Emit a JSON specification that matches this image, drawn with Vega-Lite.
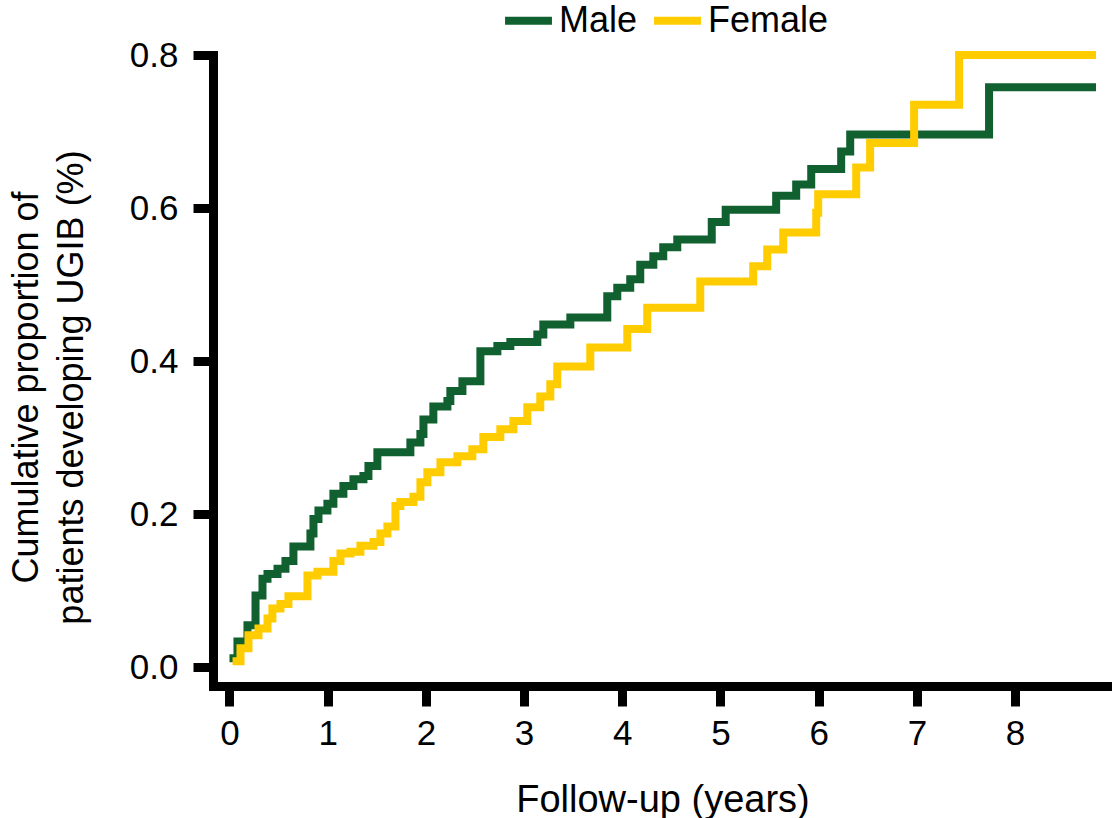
{
  "$schema": "https://vega.github.io/schema/vega-lite/v6.json",
  "width": 899,
  "height": 631,
  "autosize": {"type": "none"},
  "padding": {"left": 213, "top": 55, "right": 0, "bottom": 132},
  "background": "white",
  "config": {
    "view": {"stroke": null},
    "font": "Liberation Sans",
    "axis": {
      "domainColor": "black",
      "domainWidth": 9,
      "domainCap": "square",
      "tickColor": "black",
      "tickWidth": 9,
      "tickSize": 20,
      "grid": false,
      "labelFont": "Liberation Sans",
      "labelFontSize": 35,
      "labelColor": "black",
      "titleFont": "Liberation Sans",
      "titleFontSize": 36,
      "titleFontWeight": "normal",
      "titleColor": "black"
    }
  },
  "data": {
    "values": [
      {"sex": "Male", "t": 0.0, "p": 0.012},
      {"sex": "Male", "t": 0.081, "p": 0.034},
      {"sex": "Male", "t": 0.183, "p": 0.055},
      {"sex": "Male", "t": 0.265, "p": 0.094},
      {"sex": "Male", "t": 0.336, "p": 0.116},
      {"sex": "Male", "t": 0.387, "p": 0.122},
      {"sex": "Male", "t": 0.489, "p": 0.129},
      {"sex": "Male", "t": 0.57, "p": 0.139},
      {"sex": "Male", "t": 0.651, "p": 0.158},
      {"sex": "Male", "t": 0.824, "p": 0.175},
      {"sex": "Male", "t": 0.855, "p": 0.194},
      {"sex": "Male", "t": 0.906, "p": 0.205},
      {"sex": "Male", "t": 0.997, "p": 0.214},
      {"sex": "Male", "t": 1.058, "p": 0.227},
      {"sex": "Male", "t": 1.16, "p": 0.237},
      {"sex": "Male", "t": 1.262, "p": 0.246},
      {"sex": "Male", "t": 1.364, "p": 0.25},
      {"sex": "Male", "t": 1.415, "p": 0.263},
      {"sex": "Male", "t": 1.506, "p": 0.281},
      {"sex": "Male", "t": 1.842, "p": 0.294},
      {"sex": "Male", "t": 1.944, "p": 0.305},
      {"sex": "Male", "t": 1.975, "p": 0.324},
      {"sex": "Male", "t": 2.076, "p": 0.341},
      {"sex": "Male", "t": 2.219, "p": 0.348},
      {"sex": "Male", "t": 2.249, "p": 0.361},
      {"sex": "Male", "t": 2.372, "p": 0.374},
      {"sex": "Male", "t": 2.555, "p": 0.413},
      {"sex": "Male", "t": 2.728, "p": 0.42},
      {"sex": "Male", "t": 2.86, "p": 0.425},
      {"sex": "Male", "t": 3.135, "p": 0.435},
      {"sex": "Male", "t": 3.196, "p": 0.448},
      {"sex": "Male", "t": 3.471, "p": 0.457},
      {"sex": "Male", "t": 3.847, "p": 0.485},
      {"sex": "Male", "t": 3.949, "p": 0.496},
      {"sex": "Male", "t": 4.081, "p": 0.507},
      {"sex": "Male", "t": 4.183, "p": 0.526},
      {"sex": "Male", "t": 4.316, "p": 0.537},
      {"sex": "Male", "t": 4.417, "p": 0.549},
      {"sex": "Male", "t": 4.56, "p": 0.559},
      {"sex": "Male", "t": 4.911, "p": 0.582},
      {"sex": "Male", "t": 5.053, "p": 0.598},
      {"sex": "Male", "t": 5.567, "p": 0.616},
      {"sex": "Male", "t": 5.771, "p": 0.631},
      {"sex": "Male", "t": 5.924, "p": 0.651},
      {"sex": "Male", "t": 6.229, "p": 0.674},
      {"sex": "Male", "t": 6.321, "p": 0.696},
      {"sex": "Male", "t": 7.735, "p": 0.758},
      {"sex": "Male", "t": 8.824, "p": 0.758},
      {"sex": "Female", "t": 0.031, "p": 0.008},
      {"sex": "Female", "t": 0.112, "p": 0.025},
      {"sex": "Female", "t": 0.193, "p": 0.042},
      {"sex": "Female", "t": 0.295, "p": 0.051},
      {"sex": "Female", "t": 0.387, "p": 0.064},
      {"sex": "Female", "t": 0.437, "p": 0.077},
      {"sex": "Female", "t": 0.519, "p": 0.083},
      {"sex": "Female", "t": 0.6, "p": 0.093},
      {"sex": "Female", "t": 0.794, "p": 0.12},
      {"sex": "Female", "t": 0.896, "p": 0.125},
      {"sex": "Female", "t": 1.058, "p": 0.139},
      {"sex": "Female", "t": 1.13, "p": 0.149},
      {"sex": "Female", "t": 1.232, "p": 0.151},
      {"sex": "Female", "t": 1.333, "p": 0.159},
      {"sex": "Female", "t": 1.466, "p": 0.164},
      {"sex": "Female", "t": 1.537, "p": 0.175},
      {"sex": "Female", "t": 1.608, "p": 0.184},
      {"sex": "Female", "t": 1.69, "p": 0.211},
      {"sex": "Female", "t": 1.74, "p": 0.216},
      {"sex": "Female", "t": 1.873, "p": 0.223},
      {"sex": "Female", "t": 1.944, "p": 0.242},
      {"sex": "Female", "t": 2.015, "p": 0.255},
      {"sex": "Female", "t": 2.148, "p": 0.268},
      {"sex": "Female", "t": 2.321, "p": 0.276},
      {"sex": "Female", "t": 2.473, "p": 0.285},
      {"sex": "Female", "t": 2.585, "p": 0.301},
      {"sex": "Female", "t": 2.758, "p": 0.311},
      {"sex": "Female", "t": 2.891, "p": 0.322},
      {"sex": "Female", "t": 3.033, "p": 0.34},
      {"sex": "Female", "t": 3.165, "p": 0.354},
      {"sex": "Female", "t": 3.267, "p": 0.37},
      {"sex": "Female", "t": 3.338, "p": 0.393},
      {"sex": "Female", "t": 3.674, "p": 0.418},
      {"sex": "Female", "t": 4.051, "p": 0.442},
      {"sex": "Female", "t": 4.254, "p": 0.47},
      {"sex": "Female", "t": 4.794, "p": 0.504},
      {"sex": "Female", "t": 5.333, "p": 0.524},
      {"sex": "Female", "t": 5.476, "p": 0.546},
      {"sex": "Female", "t": 5.639, "p": 0.568},
      {"sex": "Female", "t": 5.975, "p": 0.594},
      {"sex": "Female", "t": 5.995, "p": 0.618},
      {"sex": "Female", "t": 6.382, "p": 0.653},
      {"sex": "Female", "t": 6.524, "p": 0.685},
      {"sex": "Female", "t": 6.972, "p": 0.735},
      {"sex": "Female", "t": 7.43, "p": 0.8},
      {"sex": "Female", "t": 8.824, "p": 0.8}
    ]
  },
  "mark": {"type": "line", "interpolate": "step-after", "strokeWidth": 8, "strokeCap": "butt", "strokeJoin": "miter"},
  "encoding": {
    "x": {
      "field": "t",
      "type": "quantitative",
      "title": "Follow-up (years)",
      "scale": {"domain": [-0.168, 8.987], "nice": false, "zero": false},
      "axis": {"values": [0, 1, 2, 3, 4, 5, 6, 7, 8], "labelPadding": 10, "titlePadding": 30, "titleFontSize": 38}
    },
    "y": {
      "field": "p",
      "type": "quantitative",
      "title": ["Cumulative proportion of", "patients developing UGIB (%)"],
      "scale": {"domain": [-0.0242, 0.8], "nice": false, "zero": false},
      "axis": {
        "values": [0, 0.2, 0.4, 0.6, 0.8],
        "format": ".1f",
        "labelPadding": 15,
        "titleLineHeight": 45,
        "titleX": -168,
        "titleY": 332,
        "titleAnchor": null,
        "titleAlign": "center"
      }
    },
    "color": {
      "field": "sex",
      "type": "nominal",
      "scale": {"domain": ["Male", "Female"], "range": ["#11602f", "#ffcc00"]},
      "legend": {
        "title": null,
        "orient": "none",
        "direction": "horizontal",
        "legendX": 288,
        "legendY": -62,
        "symbolType": "stroke",
        "symbolStrokeWidth": 8,
        "symbolSize": 2200,
        "labelFont": "Liberation Sans",
        "labelFontSize": 36,
        "labelColor": "black",
        "labelOffset": 3,
        "columnPadding": 0
      }
    }
  }
}
